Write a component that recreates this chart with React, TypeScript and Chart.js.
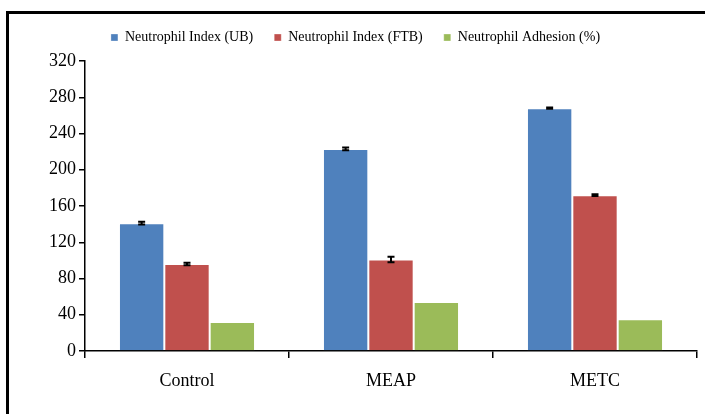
import React, { useEffect, useRef } from "react";
import { Chart, registerables } from "chart.js";

Chart.register(...registerables);

const categories = ["Control", "MEAP", "METC"];
const seriesNames = ["Neutrophil Index (UB)", "Neutrophil Index (FTB)", "Neutrophil Adhesion (%)"];
const indexUB = [141, 223, 268];
const indexUBErr = [1.5, 1.5, 0.8];
const indexFTB = [96, 101, 172];
const indexFTBErr = [1.5, 3, 1];
const adhesion = [32, 54, 35];
const adhesionErr = [0, 0, 0];
const yTicks = [0, 40, 80, 120, 160, 200, 240, 280, 320];

const FONT = "'Liberation Serif', 'Times New Roman', serif";

const errorBarPlugin = {
  id: "errorBars",
  afterDatasetsDraw(chart: any) {
    const { ctx } = chart;
    const yScale = chart.scales.y;
    chart.data.datasets.forEach((ds: any, di: number) => {
      const errs: number[] | undefined = ds.errors;
      if (!errs) return;
      const meta = chart.getDatasetMeta(di);
      meta.data.forEach((bar: any, i: number) => {
        const e = errs[i];
        if (!e) return;
        const v = ds.data[i];
        const x = bar.x;
        const yTop = yScale.getPixelForValue(v + e);
        const yBot = yScale.getPixelForValue(v - e);
        ctx.save();
        ctx.strokeStyle = "#000";
        ctx.lineWidth = 2;
        ctx.beginPath();
        ctx.moveTo(x, yTop);
        ctx.lineTo(x, yBot);
        ctx.moveTo(x - 3.5, yTop);
        ctx.lineTo(x + 3.5, yTop);
        ctx.moveTo(x - 3.5, yBot);
        ctx.lineTo(x + 3.5, yBot);
        ctx.stroke();
        ctx.restore();
      });
    });
  },
};

export default function App() {
  const ref = useRef<HTMLCanvasElement | null>(null);
  useEffect(() => {
    if (!ref.current) return;
    const edge = "rgba(255,255,255,0.3)";
    const chart = new Chart(ref.current, {
      type: "bar",
      data: {
        labels: categories,
        datasets: [
          {
            label: seriesNames[0],
            data: indexUB,
            errors: indexUBErr,
            backgroundColor: "#4F81BD",
            borderColor: edge,
            borderWidth: 1,
            borderSkipped: "start",
          } as any,
          {
            label: seriesNames[1],
            data: indexFTB,
            errors: indexFTBErr,
            backgroundColor: "#C0504D",
            borderColor: edge,
            borderWidth: 1,
            borderSkipped: "start",
          } as any,
          {
            label: seriesNames[2],
            data: adhesion,
            errors: adhesionErr,
            backgroundColor: "#9BBB59",
            borderColor: edge,
            borderWidth: 1,
            borderSkipped: "start",
          } as any,
        ],
      },
      options: {
        responsive: false,
        animation: false,
        devicePixelRatio: 1,
        layout: { padding: { top: 9.5, left: 14, right: 8, bottom: 0 } },
        datasets: { bar: { categoryPercentage: 0.667, barPercentage: 1 } },
        plugins: {
          title: {
            display: true,
            text: "",
            weight: 500,
            font: { size: 1, lineHeight: 1 },
            padding: { top: 0, bottom: 5.5 },
          } as any,
          legend: {
            position: "top",
            labels: {
              boxWidth: 7,
              boxHeight: 7,
              padding: 21,
              color: "#000",
              font: { family: FONT, size: 14 },
            },
          },
          tooltip: { enabled: false },
        },
        scales: {
          x: {
            offset: true,
            grid: {
              offset: true,
              drawOnChartArea: false,
              drawTicks: true,
              tickLength: 7,
              color: "#000",
              lineWidth: 1.5,
            },
            border: { color: "#000", width: 1.5 },
            ticks: {
              color: "#000",
              padding: 12,
              font: { family: FONT, size: 18 },
            },
            afterFit(scale: any) {
              scale.height = 63;
            },
          },
          y: {
            min: 0,
            max: 320,
            afterBuildTicks(scale: any) {
              scale.ticks = yTicks.map((v) => ({ value: v }));
            },
            grid: {
              drawOnChartArea: false,
              drawTicks: true,
              tickLength: 6,
              color: "#000",
              lineWidth: 1.5,
            },
            border: { color: "#000", width: 1.5 },
            ticks: {
              color: "#000",
              padding: 3,
              font: { family: FONT, size: 18 },
            },
            afterFit(scale: any) {
              scale.width = 71;
            },
          },
        },
      } as any,
      plugins: [errorBarPlugin],
    });
    return () => chart.destroy();
  }, []);

  return (
    <div style={{ position: "absolute", left: 0, top: 0, width: 705, height: 414, overflow: "hidden", background: "#fff" }}>
      <div
        style={{
          position: "absolute",
          left: 6,
          top: 11,
          width: 699,
          height: 403,
          borderLeft: "3px solid #000",
          borderTop: "3px solid #000",
          boxSizing: "border-box",
        }}
      />
      <canvas ref={ref} width={705} height={414} style={{ position: "absolute", left: 0, top: 0 }} />
    </div>
  );
}
